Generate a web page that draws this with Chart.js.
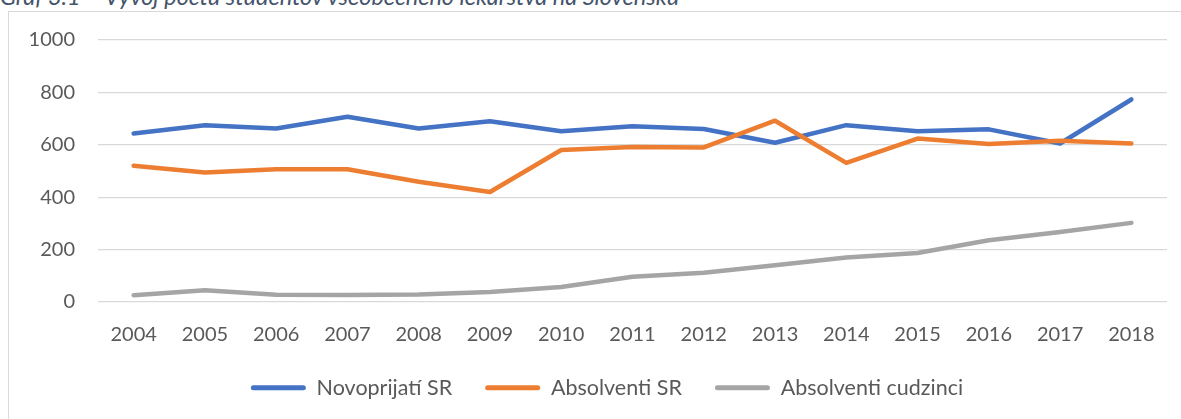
<!DOCTYPE html>
<html>
<head>
<meta charset="utf-8">
<script src="https://cdn.jsdelivr.net/npm/chart.js@4"></script>
<style>
  html, body { margin: 0; padding: 0; background: #fff; overflow: hidden; width: 1181px; height: 419px; }
  #wrap { position: relative; width: 1181px; height: 419px; overflow: hidden; }
  #frame { position: absolute; left: 8px; top: 11px; width: 1200px; height: 500px; border: 1px solid #d9d9d9; box-sizing: border-box; }
  #title { position: absolute; left: 0px; top: -16px; font-family: Lato, sans-serif; font-style: italic; font-size: 23.5px; line-height: 24px; color: #44546a; white-space: nowrap; }
  canvas { position: absolute; left: 0; top: 0; }
</style>
</head>
<body>
<div id="wrap">
  <div id="frame"></div>
  <div id="title">Graf 3.1 – Vývoj počtu študentov všeobecného lekárstva na Slovensku</div>
  <canvas id="c" width="1181" height="419"></canvas>
</div>
<script>
const years = ['2004','2005','2006','2007','2008','2009','2010','2011','2012','2013','2014','2015','2016','2017','2018'];
const novoprijatiSR = [643, 675, 662, 707, 662, 690, 652, 671, 660, 608, 675, 652, 659, 605, 773];
const absolventiSR = [520, 494, 507, 507, 459, 420, 580, 592, 590, 692, 531, 624, 603, 615, 605];
const absolventiCudzinci = [26, 45, 28, 27, 29, 38, 57, 96, 112, 140, 170, 187, 236, 267, 302];
const yTicks = [0, 200, 400, 600, 800, 1000];

const FONT = 'Lato, sans-serif';
const TEXT = '#595959';
const GRID = '#d9d9d9';

const legendFix = {
  id: 'legendFix',
  beforeLayout(chart) {
    const lg = chart.legend;
    if (lg && !lg._patched) {
      const f = lg.fit;
      lg.fit = function () { f.call(this); this.height = 75; };
      const d = lg.draw;
      lg.draw = function () {
        const l = this.left, r = this.right;
        this.left = l + 23.5; this.right = r + 23.5;
        d.call(this);
        this.left = l; this.right = r;
      };
      lg._patched = true;
    }
  }
};

function ds(label, data, color, order) {
  return {
    label, data, order,
    borderColor: color, backgroundColor: color,
    borderWidth: 4.5, pointRadius: 0, pointHoverRadius: 0,
    tension: 0, borderCapStyle: 'round', borderJoinStyle: 'round', fill: false
  };
}

new Chart(document.getElementById('c'), {
  type: 'line',
  data: {
    labels: years,
    datasets: [
      ds('Novoprijatí SR', novoprijatiSR, '#4472c4', 3),
      ds('Absolventi SR', absolventiSR, '#ed7d31', 2),
      ds('Absolventi cudzinci', absolventiCudzinci, '#a5a5a5', 1)
    ]
  },
  plugins: [legendFix],
  options: {
    responsive: false,
    animation: false,
    layout: { padding: { top: 40, left: 0, right: 14, bottom: 0 } },
    plugins: {
      tooltip: { enabled: false },
      legend: {
        position: 'bottom',
        labels: {
          font: { family: FONT, size: 21.5 },
          color: TEXT,
          boxWidth: 55,
          boxHeight: 5,
          padding: 33,
          useBorderRadius: true,
          borderRadius: 2.5,
          sort: (a, b) => a.datasetIndex - b.datasetIndex,
          generateLabels(chart) {
            const items = Chart.defaults.plugins.legend.labels.generateLabels(chart);
            items.forEach(it => { it.fillStyle = it.strokeStyle; it.lineWidth = 0; });
            return items;
          }
        }
      }
    },
    scales: {
      x: {
        offset: true,
        grid: { display: false, drawTicks: false },
        border: { display: false },
        ticks: { font: { family: FONT, size: 20 }, color: TEXT, padding: 21, maxRotation: 0, autoSkip: false },
        afterFit(s) { s.height = 42; }
      },
      y: {
        min: 0, max: 1000,
        grid: { color: GRID, lineWidth: 1.3, drawTicks: false },
        border: { display: false },
        afterBuildTicks(s) { s.ticks = yTicks.map(v => ({ value: v })); },
        ticks: { font: { family: FONT, size: 20 }, color: TEXT, padding: 23, callback: v => String(v) },
        afterFit(s) { s.width = 98; }
      }
    }
  }
});
</script>
</body>
</html>
